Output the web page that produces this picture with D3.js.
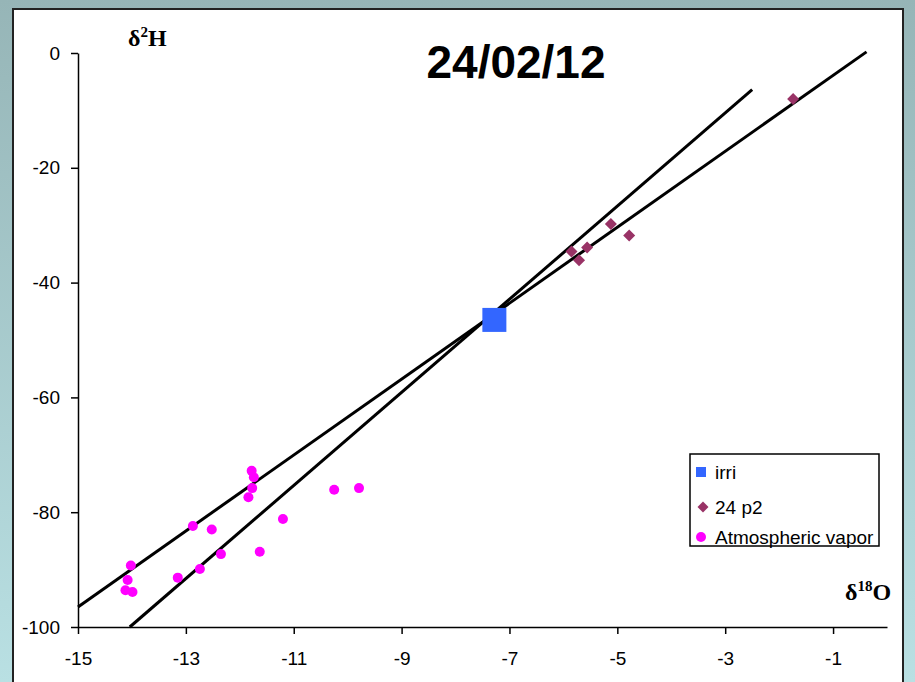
<!DOCTYPE html>
<html>
<head>
<meta charset="utf-8">
<script src="https://cdn.jsdelivr.net/npm/d3@7"></script>
<style>
  body { margin: 0; padding: 0; }
  svg text { font-family: Arial, "Liberation Sans", sans-serif; }
</style>
</head>
<body>
<div id="isotopeChart"></div>
<script>
////////////////////////////////////////////////////////////////////////
// index.html -- d2H vs d18O scatter for 24/02/12
////////////////////////////////////////////////////////////////////////

//Axis ticks
var xTicks = [-15, -13, -11, -9, -7, -5, -3, -1];
var yTicks = [0, -20, -40, -60, -80, -100];

//irri sample
var irriX = [-7.28];
var irriY = [-46.5];

//24 p2 samples
var p2X = [-5.85, -5.71, -5.56, -5.12, -4.78, -1.74];
var p2Y = [-34.6, -36.1, -33.9, -29.8, -31.8, -8.0];

//Atmospheric vapor samples
var vaporX = [-11.78, -11.74, -11.77, -11.84, -10.25, -9.79, -12.87, -12.52, -11.20,
              -12.35, -11.63, -12.74, -13.15, -14.02, -14.08, -14.12, -13.99];
var vaporY = [-72.8, -73.9, -75.8, -77.4, -76.1, -75.8, -82.4, -83.0, -81.2,
              -87.3, -86.9, -89.9, -91.4, -89.3, -91.8, -93.6, -93.9];

//Fitted lines (end points)
var line1X = [-14.04, -2.5];
var line1Y = [-100, -6.4];
var line2X = [-15, -0.38];
var line2Y = [-96.5, 0.2];

var legendLabels = ["irri", "24 p2", "Atmospheric vapor"];


////////////////////////////////////////////////////////////////////////
//
// Draw the chart
//
////////////////////////////////////////////////////////////////////////
function init()
  {
  var width = 915;
  var height = 682;

  var svg = d3.select("#isotopeChart")
    .append("svg")
    .attr("width", width)
    .attr("height", height);

  //background gradient + white panel
  var defs = svg.append("defs");
  var grad = defs.append("linearGradient")
    .attr("id", "bgGrad")
    .attr("x1", 0).attr("y1", 0).attr("x2", 0).attr("y2", 1);
  grad.append("stop").attr("offset", "0%").attr("stop-color", "#96b5b7");
  grad.append("stop").attr("offset", "100%").attr("stop-color", "#b9e0e3");

  svg.append("rect")
    .attr("width", width).attr("height", height)
    .attr("fill", "url(#bgGrad)");

  svg.append("rect")
    .attr("x", 13).attr("y", 9)
    .attr("width", 890).attr("height", 700)
    .attr("fill", "white")
    .attr("stroke", "#222")
    .attr("stroke-width", 2);

  //scales
  var x = d3.scaleLinear().domain([-15, 0]).range([78, 887]);
  var y = d3.scaleLinear().domain([-100, 0]).range([627, 53]);

  //plain hyphen for negatives, like the original
  var fmt = function(d) { return String(d); };

  //axes
  var xAxis = svg.append("g")
    .attr("transform", "translate(0," + y(-100) + ")")
    .call(d3.axisBottom(x).tickValues(xTicks).tickFormat(fmt).tickSize(7).tickSizeOuter(0).tickPadding(18));

  var yAxis = svg.append("g")
    .attr("transform", "translate(" + x(-15) + ",0)")
    .call(d3.axisLeft(y).tickValues(yTicks).tickFormat(fmt).tickSize(7).tickSizeOuter(0).tickPadding(11));

  [xAxis, yAxis].forEach(function(ax)
    {
    ax.select(".domain").attr("stroke", "#000").attr("stroke-width", 1.5);
    ax.selectAll(".tick line").attr("stroke", "#000").attr("stroke-width", 1.5);
    ax.selectAll(".tick text")
      .attr("fill", "#000")
      .style("font-size", "19px")
      .style("font-family", "Arial, 'Liberation Sans', sans-serif");
    });

  //fitted lines
  var lineGen = d3.line().x(function(d) { return x(d[0]); }).y(function(d) { return y(d[1]); });
  [[line1X, line1Y], [line2X, line2Y]].forEach(function(l)
    {
    svg.append("path")
      .datum(d3.zip(l[0], l[1]))
      .attr("d", lineGen)
      .attr("fill", "none")
      .attr("stroke", "#000")
      .attr("stroke-width", 3);
    });

  //vapor points
  svg.append("g")
    .selectAll("circle")
    .data(d3.zip(vaporX, vaporY))
    .enter()
    .append("circle")
    .attr("cx", function(d) { return x(d[0]); })
    .attr("cy", function(d) { return y(d[1]); })
    .attr("r", 5)
    .attr("fill", "#ff00ff");

  //24 p2 diamonds
  var diamond = d3.symbol().type(d3.symbolSquare).size(72);
  svg.append("g")
    .selectAll("path")
    .data(d3.zip(p2X, p2Y))
    .enter()
    .append("path")
    .attr("d", diamond)
    .attr("transform", function(d) { return "translate(" + x(d[0]) + "," + y(d[1]) + ") rotate(45)"; })
    .attr("fill", "#993366");

  //irri squares
  svg.append("g")
    .selectAll("rect")
    .data(d3.zip(irriX, irriY))
    .enter()
    .append("rect")
    .attr("x", function(d) { return x(d[0]) - 12; })
    .attr("y", function(d) { return y(d[1]) - 12; })
    .attr("width", 24).attr("height", 24)
    .attr("fill", "#3366ff");

  //title + axis labels
  svg.append("text")
    .attr("x", 516).attr("y", 78)
    .attr("text-anchor", "middle")
    .style("font-size", "46px")
    .style("font-weight", "bold")
    .text("24/02/12");

  var yLabel = svg.append("text")
    .attr("x", 128).attr("y", 46)
    .style("font-family", "'Times New Roman', 'Liberation Serif', serif")
    .style("font-size", "24px")
    .style("font-weight", "bold");
  yLabel.append("tspan").text("δ");
  yLabel.append("tspan").attr("dy", -9).style("font-size", "15px").text("2");
  yLabel.append("tspan").attr("dy", 9).text("H");

  var xLabel = svg.append("text")
    .attr("x", 845).attr("y", 600)
    .style("font-family", "'Times New Roman', 'Liberation Serif', serif")
    .style("font-size", "24px")
    .style("font-weight", "bold");
  xLabel.append("tspan").text("δ");
  xLabel.append("tspan").attr("dy", -9).style("font-size", "15px").text("18");
  xLabel.append("tspan").attr("dy", 9).text("O");

  drawLegend(svg);
  }


////////////////////////////////////////////////////////////////////////
//
// Legend box in lower right
//
////////////////////////////////////////////////////////////////////////
function drawLegend(svg)
  {
  var lg = svg.append("g").attr("transform", "translate(690,454)");

  lg.append("rect")
    .attr("width", 189).attr("height", 92)
    .attr("fill", "white")
    .attr("stroke", "#000")
    .attr("stroke-width", 1.5);

  var rowY = [18, 53, 83];

  lg.append("rect").attr("x", 6).attr("y", rowY[0] - 5).attr("width", 10).attr("height", 10).attr("fill", "#3366ff");
  lg.append("path").attr("d", d3.symbol().type(d3.symbolSquare).size(60))
    .attr("transform", "translate(13," + rowY[1] + ") rotate(45)").attr("fill", "#993366");
  lg.append("circle").attr("cx", 11).attr("cy", rowY[2]).attr("r", 5).attr("fill", "#ff00ff");

  lg.selectAll("text.lbl")
    .data(legendLabels)
    .enter()
    .append("text")
    .attr("class", "lbl")
    .attr("x", 25)
    .attr("y", function(d, i) { return rowY[i] + 7; })
    .style("font-size", "19px")
    .text(function(d) { return d; });
  }

init();
</script>
</body>
</html>
